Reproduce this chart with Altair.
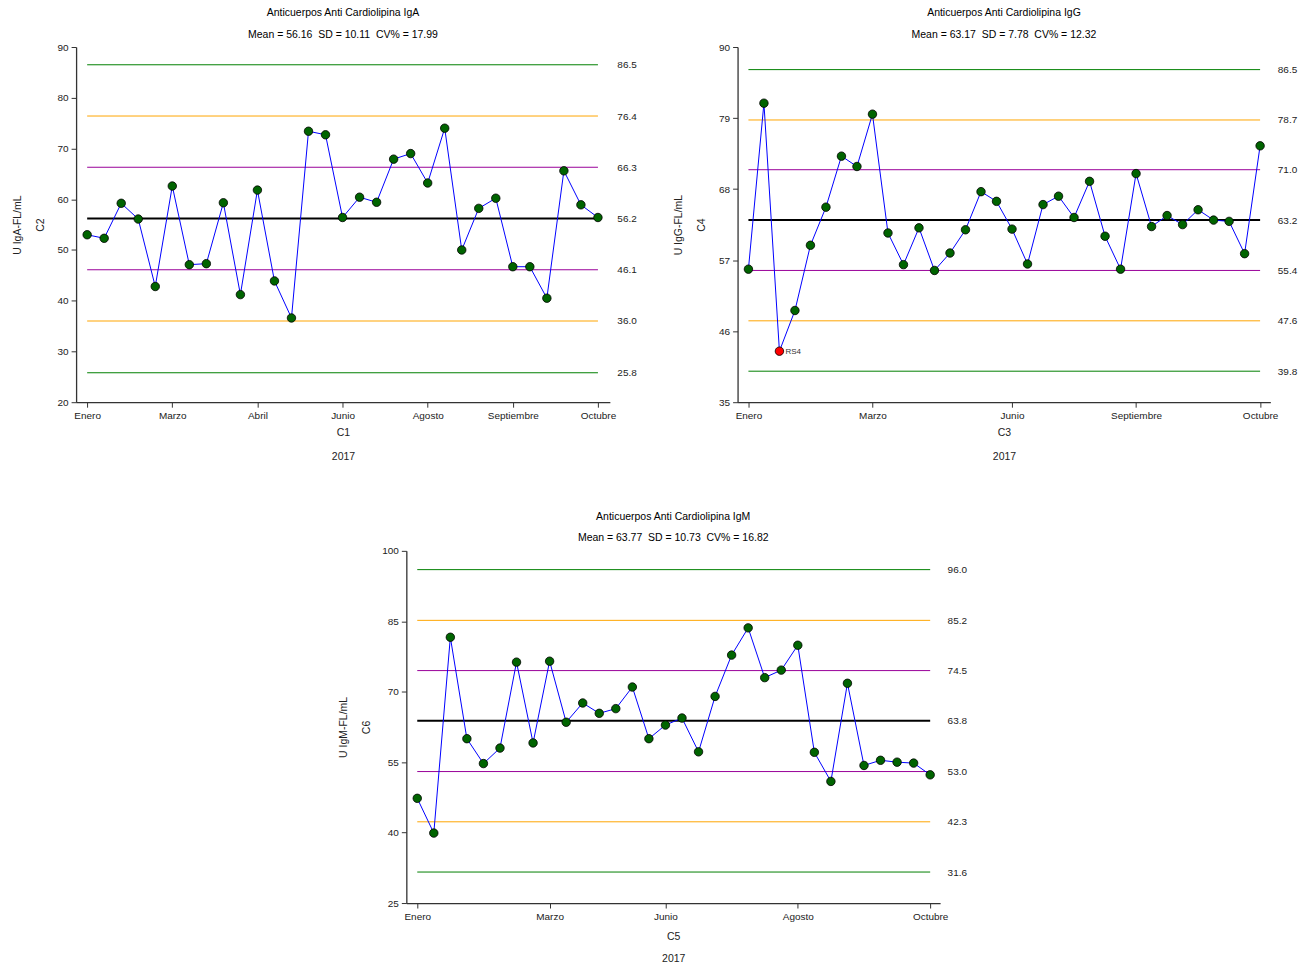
import altair as alt
import pandas as pd

FONT = "Liberation Sans"

# ---- data ----
iga_values = [53.0, 52.3, 59.2, 56.1, 42.8, 62.6, 47.1, 47.3, 59.3, 41.2, 61.8, 43.9, 36.6,
              73.4, 72.7, 56.4, 60.4, 59.4, 67.9, 69.0, 63.2, 74.0, 50.0, 58.2, 60.2, 46.7,
              46.7, 40.5, 65.6, 58.9, 56.4]
igg_values = [55.6, 81.3, 42.9, 49.2, 59.3, 65.2, 73.1, 71.5, 79.6, 61.2, 56.3, 62.0, 55.4,
              58.1, 61.7, 67.6, 66.1, 61.8, 56.4, 65.6, 66.9, 63.6, 69.2, 60.7, 55.6, 70.4,
              62.2, 63.9, 62.5, 64.8, 63.2, 63.0, 58.0, 74.7]
igm_values = [47.3, 39.9, 81.6, 60.0, 54.7, 58.0, 76.3, 59.1, 76.5, 63.5, 67.6, 65.4, 66.4,
              71.0, 60.0, 62.9, 64.4, 57.2, 69.0, 77.8, 83.6, 73.0, 74.6, 79.9, 57.1, 50.9,
              71.8, 54.3, 55.4, 55.0, 54.8, 52.3]

iga_limits = [86.5, 76.4, 66.3, 56.2, 46.1, 36.0, 25.8]
igg_limits = [86.5, 78.7, 71.0, 63.2, 55.4, 47.6, 39.8]
igm_limits = [96.0, 85.2, 74.5, 63.8, 53.0, 42.3, 31.6]

limit_colors = ["#008000", "#FFA500", "#990099", "#000000", "#990099", "#FFA500", "#008000"]
limit_widths = [1, 1, 1, 2, 1, 1, 1]

iga_xticks = [0, 5, 10, 15, 20, 25, 30]
iga_xlabels = ["Enero", "Marzo", "Abril", "Junio", "Agosto", "Septiembre", "Octubre"]
igg_xticks = [0, 8, 17, 25, 33]
igg_xlabels = ["Enero", "Marzo", "Junio", "Septiembre", "Octubre"]
igm_xticks = [0, 8, 15, 23, 31]
igm_xlabels = ["Enero", "Marzo", "Junio", "Agosto", "Octubre"]

iga_yticks = [20, 30, 40, 50, 60, 70, 80, 90]
igg_yticks = [35, 46, 57, 68, 79, 90]
igm_yticks = [25, 40, 55, 70, 85, 100]

igg_outliers = {2: "RS4"}


def label_expr(ticks, labels):
    expr = "''"
    for t, l in reversed(list(zip(ticks, labels))):
        expr = f"datum.value == {t} ? '{l}' : ({expr})"
    return expr


def panel(values, limits, yticks, xticks, xlabels, xpad, title, subtitle,
          ytitle, ycode, xcode, outliers, w, h, ytpad=12, xtpad=7, xlh=24):
    n = len(values)
    df = pd.DataFrame({"i": list(range(n)), "v": values})
    df["fill"] = ["#FF0000" if k in outliers else "#006400" for k in range(n)]
    df["lab"] = [outliers.get(k, "") for k in range(n)]
    lim = pd.DataFrame({"v": limits, "x0": 0, "x1": n - 1,
                        "c": limit_colors, "w": limit_widths})

    xscale = alt.Scale(domain=[-xpad[0], n - 1 + xpad[1]], nice=False, zero=False)
    yscale = alt.Scale(domain=[yticks[0], yticks[-1]], nice=False, zero=False)
    xaxis = alt.Axis(values=xticks, labelExpr=label_expr(xticks, xlabels),
                     title=[xcode, "2017"], titleLineHeight=xlh, titlePadding=xtpad,
                     labelPadding=3, tickSize=5, grid=False, labelFlush=False)

    rules = alt.Chart(lim).mark_rule().encode(
        x=alt.X("x0:Q", scale=xscale, axis=xaxis),
        x2="x1:Q",
        y=alt.Y("v:Q", scale=yscale,
                axis=alt.Axis(orient="right", values=limits, format=".1f",
                              domain=False, ticks=False, title=None,
                              labelPadding=7, grid=False)),
        color=alt.Color("c:N", scale=None),
        strokeWidth=alt.StrokeWidth("w:Q", scale=None),
    )
    line = alt.Chart(df).mark_line(color="#0000FF", strokeWidth=1).encode(
        x=alt.X("i:Q", scale=xscale, axis=xaxis),
        y=alt.Y("v:Q", scale=yscale,
                axis=alt.Axis(values=yticks, title=[ytitle, ycode],
                              titleLineHeight=23, titlePadding=ytpad,
                              tickSize=5, labelPadding=3, grid=False)),
    )
    pts = alt.Chart(df).mark_point(shape="circle", filled=True, stroke="black",
                                   strokeWidth=0.8, size=72, opacity=1).encode(
        x=alt.X("i:Q", scale=xscale, axis=xaxis),
        y=alt.Y("v:Q", scale=yscale, axis=None),
        fill=alt.Fill("fill:N", scale=None),
    )
    layers = [rules, line, pts]
    if outliers:
        txt = alt.Chart(df[df["lab"] != ""]).mark_text(
            align="left", baseline="middle", dx=6, dy=1, fontSize=8, font=FONT,
            color="#333333").encode(
            x=alt.X("i:Q", scale=xscale, axis=xaxis),
            y=alt.Y("v:Q", scale=yscale, axis=None),
            text="lab:N",
        )
        layers.append(txt)
    return alt.layer(*layers).resolve_scale(y="independent").properties(
        width=w, height=h,
        title=alt.TitleParams(text=title, subtitle=subtitle, fontSize=10.5,
                              fontWeight="normal", font=FONT, color="black",
                              subtitleFont=FONT, subtitleFontSize=10.5,
                              subtitleColor="black", subtitlePadding=11,
                              offset=2, anchor="middle"),
    )


NB = "\u00a0"
p1 = panel(iga_values, iga_limits, iga_yticks, iga_xticks, iga_xlabels, (0.65, 0.7),
           "Anticuerpos Anti Cardiolipina IgA",
           f"Mean = 56.16 {NB}SD = 10.11 {NB}CV% = 17.99",
           "U IgA-FL/mL", "C2", "C1", {}, 535, 356)
p2 = panel(igg_values, igg_limits, igg_yticks, igg_xticks, igg_xlabels, (0.7, 0.66),
           "Anticuerpos Anti Cardiolipina IgG",
           f"Mean = 63.17 {NB}SD = 7.78 {NB}CV% = 12.32",
           "U IgG-FL/mL", "C4", "C3", igg_outliers, 534, 356)
p3 = panel(igm_values, igm_limits, igm_yticks, igm_xticks, igm_xlabels, (0.66, 0.6),
           "Anticuerpos Anti Cardiolipina IgM",
           f"Mean = 63.77 {NB}SD = 10.73 {NB}CV% = 16.82",
           "U IgM-FL/mL", "C6", "C5", {}, 535, 353, ytpad=10, xtpad=11, xlh=22)

chart = alt.vconcat(
    alt.hconcat(p1, p2, spacing=36),
    p3, spacing=50, center=True,
).properties(
    padding={"left": 12, "top": 7, "right": 5, "bottom": 5},
    background="white",
).configure_view(stroke=None).configure_axis(
    labelFont=FONT, labelFontSize=10, labelColor="#222222",
    titleFont=FONT, titleFontSize=10.5, titleFontWeight="normal", titleColor="#222222",
    domainColor="#333333", domainWidth=1.3, tickColor="#333333", tickWidth=1,
)

chart.save("out.html", embed_options={"renderer": "svg", "actions": False})
